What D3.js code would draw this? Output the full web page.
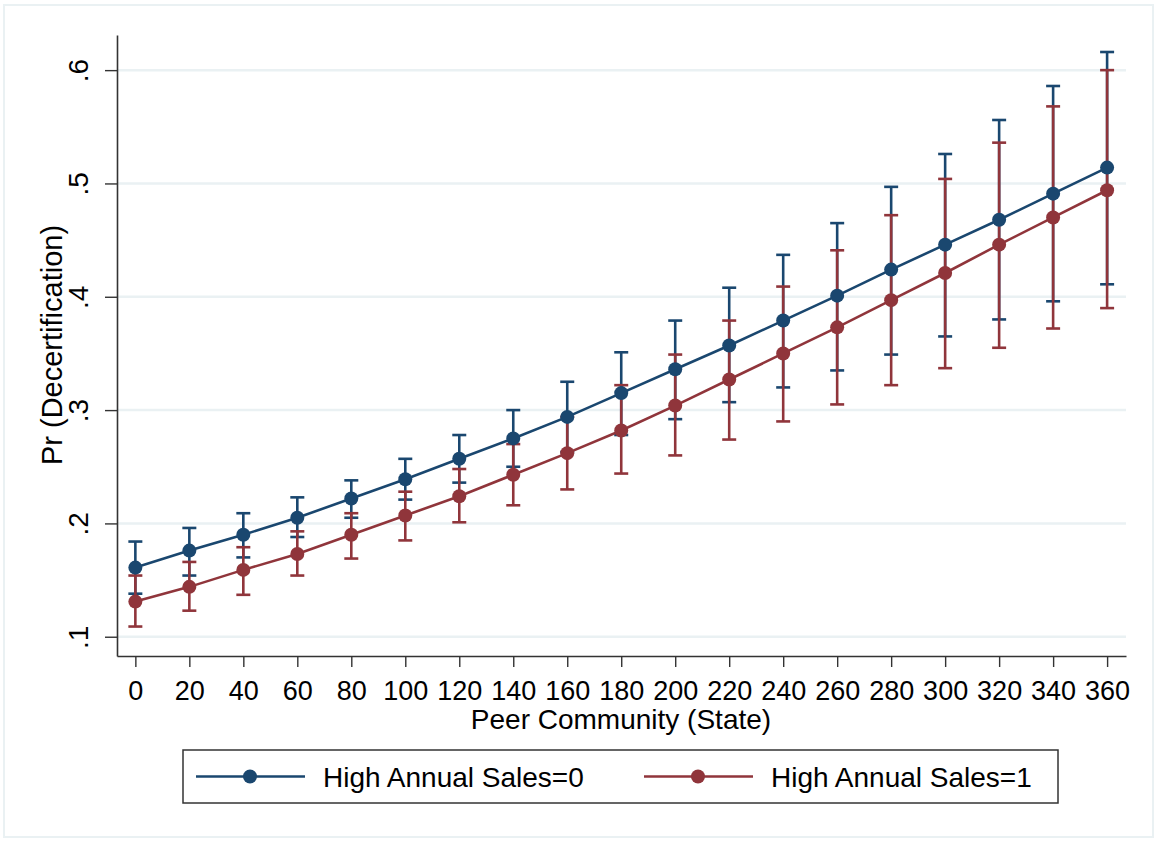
<!DOCTYPE html>
<html>
<head>
<meta charset="utf-8">
<script src="https://cdn.jsdelivr.net/npm/d3@7"></script>
<style>
  html, body { margin: 0; padding: 0; background: #ffffff; }
  svg { display: block; font-family: "Liberation Sans", Arial, sans-serif; }
</style>
</head>
<body>
<svg id="chart" width="1156" height="841"></svg>
<script>
// Peer community (state) values on the x axis
const peer = [0, 20, 40, 60, 80, 100, 120, 140, 160, 180, 200, 220, 240, 260, 280, 300, 320, 340, 360];

// High Annual Sales = 0: predicted probability and 95% CI
const est0 = [0.161, 0.176, 0.190, 0.205, 0.222, 0.239, 0.257, 0.275, 0.294, 0.315, 0.336, 0.357, 0.379, 0.401, 0.424, 0.446, 0.468, 0.491, 0.514];
const lo0  = [0.138, 0.154, 0.170, 0.188, 0.205, 0.221, 0.236, 0.250, 0.263, 0.278, 0.292, 0.307, 0.320, 0.335, 0.349, 0.365, 0.380, 0.396, 0.411];
const hi0  = [0.184, 0.196, 0.209, 0.223, 0.238, 0.257, 0.278, 0.300, 0.325, 0.351, 0.379, 0.408, 0.437, 0.465, 0.497, 0.526, 0.556, 0.586, 0.616];

// High Annual Sales = 1: predicted probability and 95% CI
const est1 = [0.131, 0.144, 0.159, 0.173, 0.190, 0.207, 0.224, 0.243, 0.262, 0.282, 0.304, 0.327, 0.350, 0.373, 0.397, 0.421, 0.446, 0.470, 0.494];
const lo1  = [0.109, 0.123, 0.137, 0.154, 0.169, 0.185, 0.201, 0.216, 0.230, 0.244, 0.260, 0.274, 0.290, 0.305, 0.322, 0.337, 0.355, 0.372, 0.390];
const hi1  = [0.154, 0.166, 0.179, 0.193, 0.209, 0.228, 0.248, 0.270, 0.294, 0.322, 0.349, 0.379, 0.409, 0.441, 0.472, 0.504, 0.536, 0.568, 0.600];

const yTicks = [0.1, 0.2, 0.3, 0.4, 0.5, 0.6];
const yTickLabels = [".1", ".2", ".3", ".4", ".5", ".6"];
const seriesNames = ["High Annual Sales=0", "High Annual Sales=1"];
const seriesColors = ["#1a476f", "#90353b"];

const svg = d3.select("#chart");

// outer graph region frame
svg.append("rect")
  .attr("x", 4).attr("y", 5).attr("width", 1149).attr("height", 832)
  .attr("fill", "#ffffff").attr("stroke", "#eaf1f3").attr("stroke-width", 2);

const x = d3.scaleLinear().domain([-6.8, 367]).range([117, 1126]);
const y = d3.scaleLinear().domain([0.083, 0.631]).range([656, 35]);

// horizontal grid
svg.append("g").selectAll("line").data(yTicks).join("line")
  .attr("x1", 118).attr("x2", 1126)
  .attr("y1", d => y(d)).attr("y2", d => y(d))
  .attr("stroke", "#eaf1f3").attr("stroke-width", 2.5);

// y axis
const yAxis = svg.append("g").attr("transform", "translate(117,0)")
  .call(d3.axisLeft(y).tickValues(yTicks).tickSize(12).tickSizeOuter(0)
    .tickFormat((d, i) => yTickLabels[i]));
yAxis.select(".domain").attr("stroke", "#333").attr("stroke-width", 1.6);
yAxis.selectAll(".tick line").attr("stroke", "#333").attr("stroke-width", 1.4);
yAxis.selectAll(".tick text")
  .attr("x", null).attr("dy", null)
  .attr("transform", "translate(-29,0) rotate(-90)")
  .attr("text-anchor", "middle")
  .attr("fill", "#000")
  .style("font-size", "28px");

// x axis
const xAxis = svg.append("g").attr("transform", "translate(0,656)")
  .call(d3.axisBottom(x).tickValues(peer).tickSize(11).tickSizeOuter(0).tickFormat(d3.format("d")));
xAxis.select(".domain").attr("stroke", "#333").attr("stroke-width", 1.6);
xAxis.selectAll(".tick line").attr("stroke", "#333").attr("stroke-width", 1.4);
xAxis.selectAll(".tick text")
  .attr("y", 44).attr("dy", null)
  .attr("fill", "#000")
  .style("font-size", "27px");

// axis titles
svg.append("text")
  .attr("x", 621).attr("y", 729)
  .attr("text-anchor", "middle")
  .style("font-size", "28px")
  .text("Peer Community (State)");

svg.append("text")
  .attr("transform", "translate(62,345) rotate(-90)")
  .attr("text-anchor", "middle")
  .style("font-size", "29px")
  .text("Pr (Decertification)");

const series = [
  { est: est0, lo: lo0, hi: hi0, color: seriesColors[0] },
  { est: est1, lo: lo1, hi: hi1, color: seriesColors[1] }
];

const capHalf = 7;

// confidence interval caps
series.forEach(s => {
  const g = svg.append("g").attr("stroke", s.color).attr("stroke-width", 2.6).attr("fill", "none");
  peer.forEach((p, i) => {
    const cx = x(p);
    g.append("line").attr("x1", cx).attr("x2", cx).attr("y1", y(s.lo[i])).attr("y2", y(s.hi[i]));
    g.append("line").attr("x1", cx - capHalf).attr("x2", cx + capHalf).attr("y1", y(s.lo[i])).attr("y2", y(s.lo[i]));
    g.append("line").attr("x1", cx - capHalf).attr("x2", cx + capHalf).attr("y1", y(s.hi[i])).attr("y2", y(s.hi[i]));
  });
});

// connected estimates
const line = d3.line().x((d, i) => x(peer[i])).y(d => y(d));
series.forEach(s => {
  svg.append("path").datum(s.est)
    .attr("d", line)
    .attr("fill", "none").attr("stroke", s.color).attr("stroke-width", 2.6);
  svg.append("g").selectAll("circle").data(s.est).join("circle")
    .attr("cx", (d, i) => x(peer[i])).attr("cy", d => y(d))
    .attr("r", 7).attr("fill", s.color);
});

// legend
const legend = svg.append("g");
legend.append("rect")
  .attr("x", 183).attr("y", 750).attr("width", 875).attr("height", 53)
  .attr("fill", "#fff").attr("stroke", "#333").attr("stroke-width", 1.5);

const legendItems = [
  { name: seriesNames[0], color: seriesColors[0], x0: 196 },
  { name: seriesNames[1], color: seriesColors[1], x0: 644 }
];
legendItems.forEach(it => {
  legend.append("line")
    .attr("x1", it.x0).attr("x2", it.x0 + 109).attr("y1", 776.5).attr("y2", 776.5)
    .attr("stroke", it.color).attr("stroke-width", 2.6);
  legend.append("circle")
    .attr("cx", it.x0 + 54).attr("cy", 776.5).attr("r", 7).attr("fill", it.color);
  legend.append("text")
    .attr("x", it.x0 + 127).attr("y", 787)
    .style("font-size", "28px")
    .text(it.name);
});
</script>
</body>
</html>
